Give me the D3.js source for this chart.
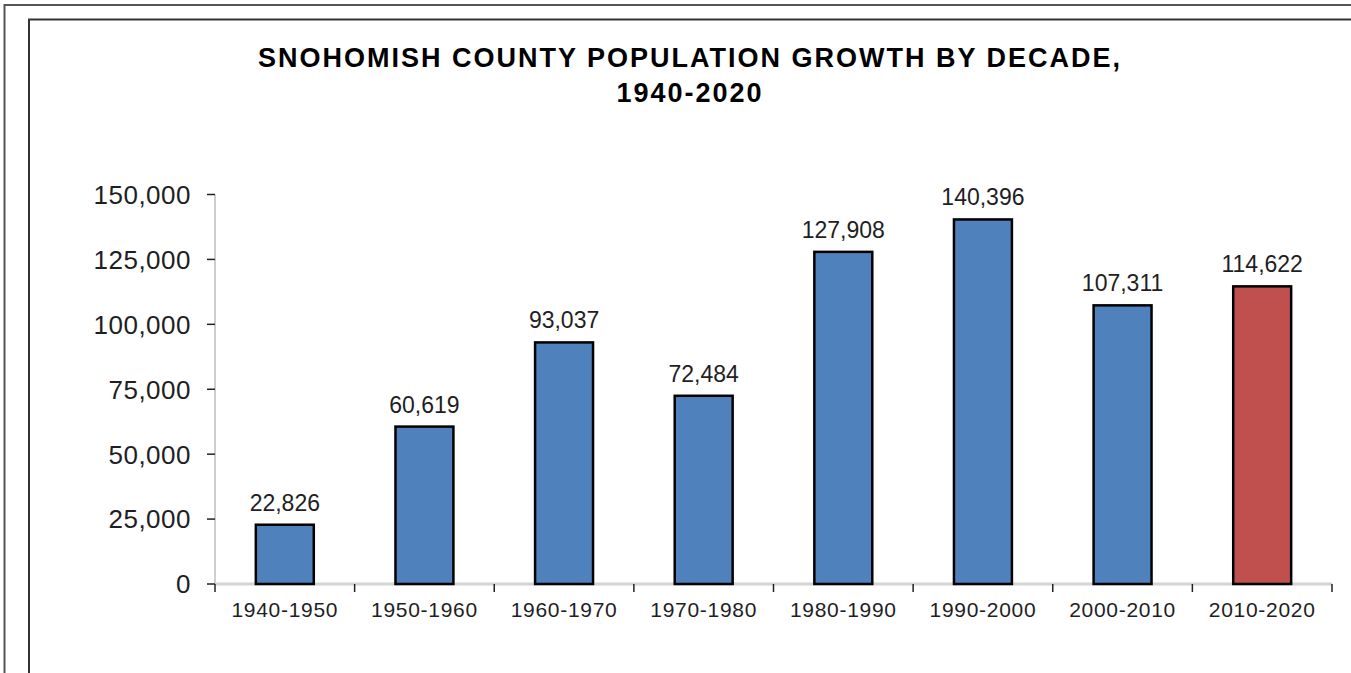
<!DOCTYPE html>
<html>
<head>
<meta charset="utf-8">
<script src="https://cdn.jsdelivr.net/npm/d3@7"></script>
<style>
  body { margin: 0; background: #fff; }
  text { font-family: "Liberation Sans", Arial, sans-serif; fill: #1e1e24; }
</style>
</head>
<body>
<script>
// chart data
const categories = ["1940-1950", "1950-1960", "1960-1970", "1970-1980", "1980-1990", "1990-2000", "2000-2010", "2010-2020"];
const growth = [22826, 60619, 93037, 72484, 127908, 140396, 107311, 114622];
const yTicks = [0, 25000, 50000, 75000, 100000, 125000, 150000];
const titleLines = ["SNOHOMISH COUNTY POPULATION GROWTH BY DECADE,", "1940-2020"];
const highlight = "2010-2020";

var W = 1351, H = 673;

var svg = d3.select('body')
  .append('svg')
  .attr('width', W)
  .attr('height', H);

// sheet frame + chart frame
svg.append('path')
  .attr('d', 'M4.5,' + H + 'V5H' + W)
  .attr('fill', 'none').attr('stroke', '#555').attr('stroke-width', 2);
svg.append('path')
  .attr('d', 'M29,' + H + 'V19.5H' + W)
  .attr('fill', 'none').attr('stroke', '#333').attr('stroke-width', 2);

// title
svg.selectAll('.title')
  .data(titleLines)
  .enter().append('text')
  .attr('class', 'title')
  .attr('x', 690)
  .attr('y', (d, i) => 67 + i * 35)
  .attr('text-anchor', 'middle')
  .style('font-weight', 'bold')
  .style('font-size', '27px')
  .style('letter-spacing', '2px')
  .style('fill', '#000')
  .text(d => d);

var y = d3.scaleLinear().domain([0, 150000]).range([584, 194.5]);
var x = d3.scaleBand().domain(categories).range([215, 1332]).padding(0);
var xEdge = d3.scaleLinear().domain([0, categories.length]).range([215, 1332]);

// y axis
var yAxis = svg.append('g').attr('transform', 'translate(215,0)');
yAxis.append('line')
  .attr('y1', y(150000)).attr('y2', y(0))
  .attr('stroke', '#bdbdbd').attr('stroke-width', 1.5);
yAxis.selectAll('.tk')
  .data(yTicks)
  .enter().append('line')
  .attr('x1', -8).attr('x2', 0)
  .attr('y1', d => y(d)).attr('y2', d => y(d))
  .attr('stroke', '#222').attr('stroke-width', 1.5);
yAxis.selectAll('.lbl')
  .data(yTicks)
  .enter().append('text')
  .attr('x', -24)
  .attr('y', d => y(d))
  .attr('dy', '0.36em')
  .attr('text-anchor', 'end')
  .style('font-size', '26px')
  .style('letter-spacing', '0.5px')
  .text(d => d3.format(',')(d));

// x axis
var xAxis = svg.append('g');
xAxis.append('line')
  .attr('x1', 215).attr('x2', 1332)
  .attr('y1', y(0)).attr('y2', y(0))
  .attr('stroke', '#d4d4d4').attr('stroke-width', 3);
xAxis.selectAll('.tk')
  .data(d3.range(categories.length + 1))
  .enter().append('line')
  .attr('x1', d => xEdge(d)).attr('x2', d => xEdge(d))
  .attr('y1', y(0)).attr('y2', y(0) + 8)
  .attr('stroke', '#222').attr('stroke-width', 1.5);
xAxis.selectAll('.lbl')
  .data(categories)
  .enter().append('text')
  .attr('x', d => x(d) + x.bandwidth() / 2)
  .attr('y', 617)
  .attr('text-anchor', 'middle')
  .style('font-size', '21px')
  .style('letter-spacing', '0.7px')
  .text(d => d);

// bars
var barW = x.bandwidth() * 0.415;
svg.selectAll('.bar')
  .data(categories)
  .enter().append('rect')
  .attr('class', 'bar')
  .attr('x', d => x(d) + (x.bandwidth() - barW) / 2)
  .attr('y', (d, i) => y(growth[i]))
  .attr('width', barW)
  .attr('height', (d, i) => y(0) - y(growth[i]))
  .attr('fill', d => d == highlight ? '#c0504d' : '#4f81bd')
  .attr('stroke', '#000')
  .attr('stroke-width', 2.5);

// value labels
svg.selectAll('.val')
  .data(categories)
  .enter().append('text')
  .attr('x', d => x(d) + x.bandwidth() / 2)
  .attr('y', (d, i) => y(growth[i]) - 14)
  .attr('text-anchor', 'middle')
  .style('font-size', '23px')
  .text((d, i) => d3.format(',')(growth[i]));
</script>
</body>
</html>
